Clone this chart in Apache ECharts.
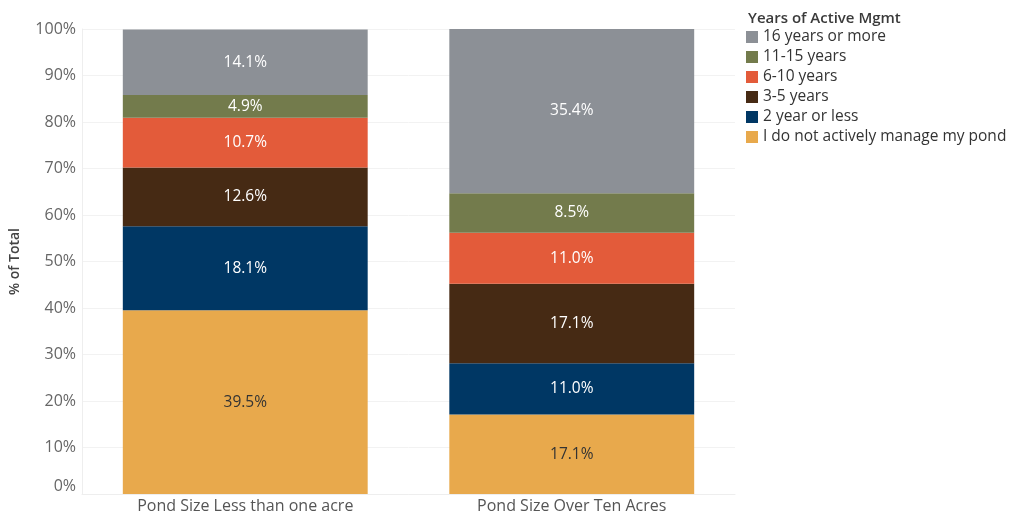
<!DOCTYPE html>
<html>
<head>
<meta charset="utf-8">
<script src="https://cdn.jsdelivr.net/npm/echarts@6/dist/echarts.min.js"></script>
<style>
  html, body { margin: 0; padding: 0; background: #fff; }
  #main { width: 1013px; height: 515px; }
</style>
</head>
<body>
<div id="main"></div>
<script>
var categories = ["Pond Size Less than one acre", "Pond Size Over Ten Acres"];
var seriesNames = ["I do not actively manage my pond", "2 year or less", "3-5 years", "6-10 years", "11-15 years", "16 years or more"];
var notManaged = [39.5, 17.1];
var twoOrLess = [18.1, 11.0];
var threeToFive = [12.6, 17.1];
var sixToTen = [10.7, 11.0];
var elevenToFifteen = [4.9, 8.5];
var sixteenPlus = [14.1, 35.4];
var yTicks = [0, 10, 20, 30, 40, 50, 60, 70, 80, 90, 100];

var colors = ["#E8A94C", "#003764", "#462A14", "#E35B3A", "#737B4C", "#8C9096"];
var labelColors = ["#333333", "#ffffff", "#ffffff", "#ffffff", "#ffffff", "#ffffff"];
var allData = [notManaged, twoOrLess, threeToFive, sixToTen, elevenToFifteen, sixteenPlus];
var font = "'Open Sans', sans-serif";

var series = allData.map(function (d, i) {
  return {
    name: seriesNames[i],
    type: "bar",
    stack: "total",
    barWidth: "75%",
    data: d,
    itemStyle: { color: colors[i] },
    label: {
      show: true,
      position: "inside",
      color: labelColors[i],
      fontSize: 15.5,
      fontFamily: font,
      formatter: function (p) { return p.value.toFixed(1) + "%"; }
    }
  };
});

var myChart = echarts.init(document.getElementById("main"));
var option = {
  backgroundColor: "#fff",
  animation: false,
  title: {
    text: "Years of Active Mgmt",
    left: 743,
    top: 6,
    textStyle: { fontSize: 15, fontWeight: 600, color: "#3a3a3a", fontFamily: font }
  },
  legend: {
    data: seriesNames.slice().reverse(),
    orient: "vertical",
    left: 746,
    top: 29,
    padding: 0,
    itemWidth: 12,
    itemHeight: 12,
    itemGap: 4,
    icon: "rect",
    textStyle: { fontSize: 15.5, lineHeight: 14, color: "#333", fontFamily: font }
  },
  grid: { left: 78, right: 278, top: 29, bottom: 21 },
  xAxis: {
    type: "category",
    data: categories,
    axisTick: { show: false },
    axisLine: { lineStyle: { color: "#eeeeee" } },
    axisLabel: { color: "#555", fontSize: 16, fontFamily: font, margin: 4 }
  },
  yAxis: {
    type: "value",
    min: yTicks[0],
    max: yTicks[yTicks.length - 1],
    interval: 10,
    name: "% of Total",
    nameLocation: "middle",
    nameGap: 60,
    nameTextStyle: { fontSize: 14, fontWeight: 600, color: "#444", fontFamily: font },
    axisLine: { show: true, lineStyle: { color: "#eeeeee" } },
    axisTick: { show: false },
    splitLine: { lineStyle: { color: "#f2f2f2" } },
    axisLabel: {
      color: "#666",
      fontSize: 16,
      fontFamily: font,
      margin: 6,
      verticalAlignMinLabel: "bottom",
      formatter: "{value}%"
    }
  },
  series: series
};
myChart.setOption(option);
</script>
</body>
</html>
